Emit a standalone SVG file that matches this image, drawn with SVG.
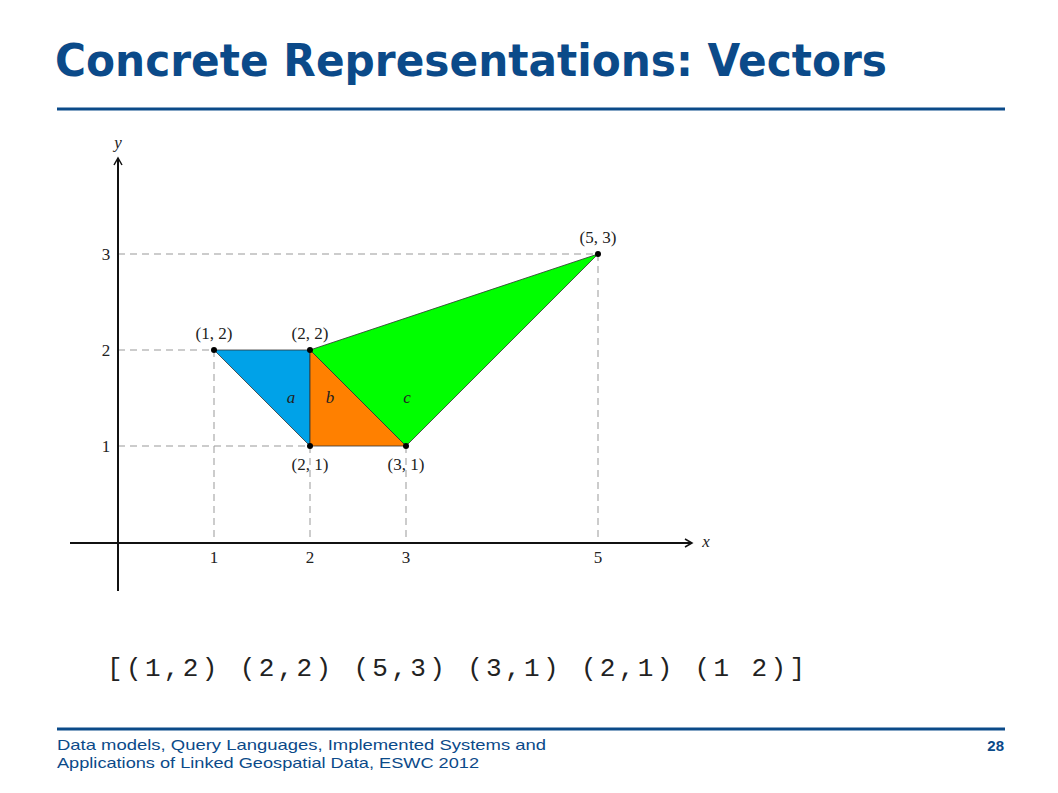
<svg xmlns="http://www.w3.org/2000/svg" width="1058" height="793" viewBox="0 0 1058 793">
<style>
.title{font-family:"DejaVu Sans",Verdana,sans-serif;font-weight:bold;font-size:45px;fill:#0b4a89}
.rule{stroke:#0b4a89;stroke-width:3}
.foot{font-family:"Liberation Sans",Arial,sans-serif;font-size:15px;fill:#0b4a89}
.math{font-family:"Liberation Serif","Times New Roman",serif;font-size:17px;fill:#222}
.it{font-style:italic}
.dash{stroke:#999;stroke-width:1;stroke-dasharray:7,5;fill:none}
.axis{stroke:#111;stroke-width:2;fill:none}
.tri{stroke:#333;stroke-width:0.8;stroke-linejoin:round}
.mono{font-family:"Liberation Mono","Courier New",monospace;font-size:26px;fill:#222}
</style>
<defs>
<marker id="arr" viewBox="0 0 10 10" refX="8" refY="5" markerWidth="5" markerHeight="5" orient="auto">
<path d="M1,1 L8,5 L1,9" fill="none" stroke="#111" stroke-width="1.5"/>
</marker>
</defs>
<rect width="1058" height="793" fill="#fff"/>
<text class="title" x="55" y="76" textLength="832" lengthAdjust="spacingAndGlyphs">Concrete Representations: Vectors</text>
<line class="rule" x1="57" y1="109" x2="1005" y2="109"/>

<g id="grid">
<path class="dash" d="M118,254 H598 M118,350 H214 M118,446 H310 M214,350 V543 M310,446 V543 M406,446 V543 M598,254 V543"/>
</g>

<g id="triangles">
<polygon id="a" class="tri" points="214,350 310,350 310,446" fill="#00a2e8"/>
<polygon id="b" class="tri" points="310,350 406,446 310,446" fill="#ff8000"/>
<polygon id="c" class="tri" points="310,350 598,254 406,446" fill="#00ff00"/>
<text class="math it" x="291" y="403" text-anchor="middle">a</text>
<text class="math it" x="330" y="403" text-anchor="middle">b</text>
<text class="math it" x="407" y="403" text-anchor="middle">c</text>
</g>

<g id="axes">
<line class="axis" x1="118" y1="591" x2="118" y2="158" marker-end="url(#arr)"/>
<line class="axis" x1="70" y1="543" x2="692" y2="543" marker-end="url(#arr)"/>
<text class="math it" x="118" y="148" text-anchor="middle">y</text>
<text class="math it" x="706" y="547" text-anchor="middle">x</text>
<text class="math" x="106" y="260" text-anchor="middle">3</text>
<text class="math" x="106" y="356" text-anchor="middle">2</text>
<text class="math" x="106" y="452" text-anchor="middle">1</text>
<text class="math" x="214" y="563" text-anchor="middle">1</text>
<text class="math" x="310" y="563" text-anchor="middle">2</text>
<text class="math" x="406" y="563" text-anchor="middle">3</text>
<text class="math" x="598" y="563" text-anchor="middle">5</text>
</g>

<g id="points">
<circle cx="214" cy="350" r="3" fill="#000"/>
<circle cx="310" cy="350" r="3" fill="#000"/>
<circle cx="598" cy="254" r="3" fill="#000"/>
<circle cx="310" cy="446" r="3" fill="#000"/>
<circle cx="406" cy="446" r="3" fill="#000"/>
<text class="math" x="214" y="339" text-anchor="middle">(1, 2)</text>
<text class="math" x="310" y="339" text-anchor="middle">(2, 2)</text>
<text class="math" x="598" y="243" text-anchor="middle">(5, 3)</text>
<text class="math" x="310" y="470" text-anchor="middle">(2, 1)</text>
<text class="math" x="406" y="470" text-anchor="middle">(3, 1)</text>
</g>

<text class="mono" x="107" y="676" textLength="698" lengthAdjust="spacing" xml:space="preserve">[(1,2) (2,2) (5,3) (3,1) (2,1) (1 2)]</text>

<line class="rule" x1="57" y1="729" x2="1005" y2="729"/>
<text class="foot" x="57" y="750" textLength="489" lengthAdjust="spacingAndGlyphs">Data models, Query Languages, Implemented Systems and</text>
<text class="foot" x="57" y="768" textLength="422" lengthAdjust="spacingAndGlyphs">Applications of Linked Geospatial Data, ESWC 2012</text>
<text class="foot" x="1004" y="751" text-anchor="end" font-weight="bold" font-size="17">28</text>
</svg>
